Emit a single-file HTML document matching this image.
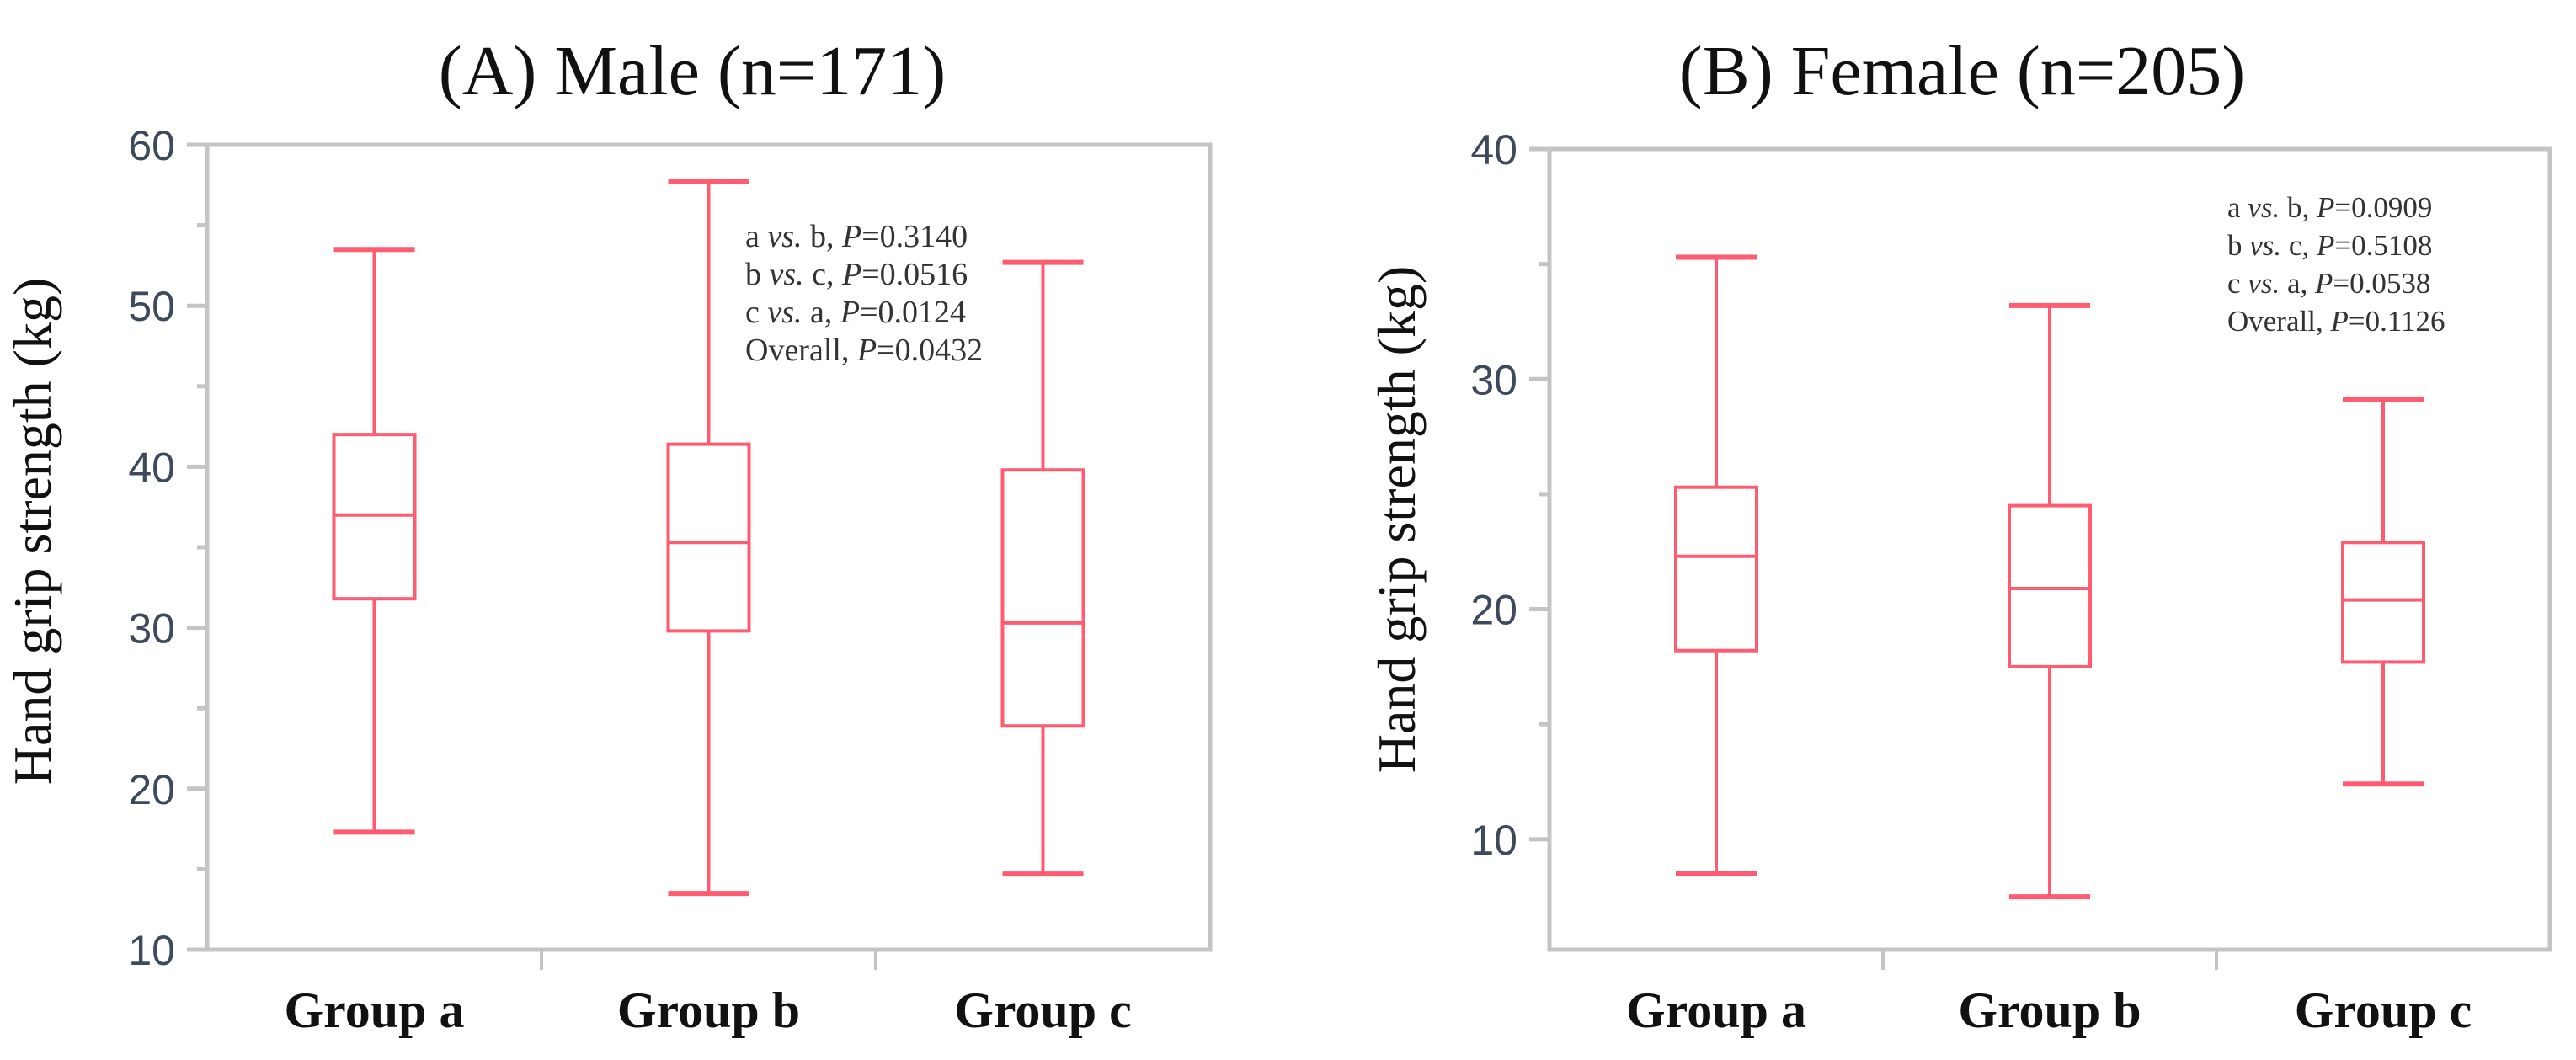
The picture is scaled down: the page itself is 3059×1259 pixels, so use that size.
<!DOCTYPE html>
<html><head><meta charset="utf-8"><style>
html,body{margin:0;padding:0;background:#fff;}
svg{display:block;}
</style></head><body>
<svg id="chart" width="3059" height="1259" viewBox="0 0 3059 1259" xmlns="http://www.w3.org/2000/svg"></svg>
<script>
const groups = ["Group a", "Group b", "Group c"];
const maleMin = [17.3, 13.5, 14.7];
const maleQ1 = [31.8, 29.8, 23.9];
const maleMed = [37.0, 35.3, 30.3];
const maleQ3 = [42.0, 41.4, 39.8];
const maleMax = [53.5, 57.7, 52.7];
const femaleMin = [8.5, 7.5, 12.4];
const femaleQ1 = [18.2, 17.5, 17.7];
const femaleMed = [22.3, 20.9, 20.4];
const femaleQ3 = [25.3, 24.5, 22.9];
const femaleMax = [35.3, 33.2, 29.1];
const maleTicks = [10, 20, 30, 40, 50, 60];
const femaleTicks = [10, 20, 30, 40];
const maleNotes = ["a vs. b, |0.3140", "b vs. c, |0.0516", "c vs. a, |0.0124", "Overall, |0.0432"];
const femaleNotes = ["a vs. b, |0.0909", "b vs. c, |0.5108", "c vs. a, |0.0538", "Overall, |0.1126"];

const NS = "http://www.w3.org/2000/svg";
const svg = document.getElementById("chart");
function mk(tag, attrs, parent) {
  const e = document.createElementNS(NS, tag);
  for (const k in attrs) e.setAttribute(k, attrs[k]);
  (parent || svg).appendChild(e);
  return e;
}

function panel(cfg) {
  const g = mk("g", {});
  
  
  const y = v => cfg.top + (cfg.yMax - v) / (cfg.yMax - cfg.yMin) * (cfg.bottom - cfg.top);
  const bandW = (cfg.right - cfg.left) / groups.length;
  const x = i => cfg.left + bandW * (i + 0.5);

  const frame = mk("rect", {x: cfg.left, y: cfg.top, width: cfg.right - cfg.left, height: cfg.bottom - cfg.top, fill: "none", stroke: "#c4c4c4", "stroke-width": 5}, g);
  
  

  const title = mk("text", {x: cfg.titleX, y: 112, "text-anchor": "middle", "font-family": "Liberation Serif, serif", "font-size": 84, fill: "#111"}, g);
  title.textContent = cfg.title;
  
  

  const yt = mk("text", {x: 0, y: 0, "text-anchor": "middle", "font-family": "Liberation Serif, serif", "font-size": 64, fill: "#111", transform: `translate(${cfg.yTitleX},${cfg.yTitleY}) rotate(-90)`}, g);
  yt.textContent = "Hand grip strength (kg)";
  
  

  for (let v = Math.ceil(cfg.yMin / 5) * 5; v <= cfg.yMax; v += 5) {
    const major = v % 10 === 0;
    const t = mk("line", {x1: cfg.left - (major ? 24 : 12), x2: cfg.left, y1: y(v), y2: y(v), stroke: "#c4c4c4", "stroke-width": 5}, g);
    
    
  }
  cfg.ticks.forEach(v => {
    const t = mk("text", {x: cfg.left - 38, y: y(v) + 18, "text-anchor": "end", "font-family": "Liberation Sans, sans-serif", "font-size": 50, fill: "#3d4a5c"}, g);
    t.textContent = v;
    
    
  });
  for (let i = 1; i < groups.length; i++) {
    const t = mk("line", {x1: cfg.left + bandW * i, x2: cfg.left + bandW * i, y1: cfg.bottom, y2: cfg.bottom + 24, stroke: "#c4c4c4", "stroke-width": 4}, g);
    
    
  }
  groups.forEach((name, i) => {
    const t = mk("text", {x: x(i), y: cfg.bottom + 92, "text-anchor": "middle", "font-family": "Liberation Serif, serif", "font-size": 60, "font-weight": "bold", fill: "#111"}, g);
    t.textContent = name.replace(" ", "  ");
    t.setAttribute("xml:space", "preserve");
    
    

    const bg = mk("g", {stroke: "#ff5c72", "stroke-width": 4, fill: "none"}, g);
    
    
    const cx = x(i), hw = 48;
    mk("line", {x1: cx, x2: cx, y1: y(cfg.max[i]), y2: y(cfg.q3[i])}, bg);
    mk("line", {x1: cx, x2: cx, y1: y(cfg.q1[i]), y2: y(cfg.min[i])}, bg);
    mk("line", {x1: cx - hw, x2: cx + hw, y1: y(cfg.max[i]), y2: y(cfg.max[i]), "stroke-width": 6}, bg);
    mk("line", {x1: cx - hw, x2: cx + hw, y1: y(cfg.min[i]), y2: y(cfg.min[i]), "stroke-width": 6}, bg);
    mk("rect", {x: cx - hw, y: y(cfg.q3[i]), width: 2 * hw, height: y(cfg.q1[i]) - y(cfg.q3[i])}, bg);
    mk("line", {x1: cx - hw, x2: cx + hw, y1: y(cfg.med[i]), y2: y(cfg.med[i])}, bg);
  });

  cfg.notes.forEach((n, k) => {
    const [a, b] = n.split("|");
    const t = mk("text", {x: cfg.noteX, y: cfg.noteY + k * 45, "font-family": "Liberation Serif, serif", "font-size": cfg.noteSize, fill: "#333"}, g);
    
    
    const parts = a.split("vs.");
    if (parts.length === 2) {
      const s1 = mk("tspan", {}, t); s1.textContent = parts[0];
      const s2 = mk("tspan", {"font-style": "italic"}, t); s2.textContent = "vs.";
      const s3 = mk("tspan", {}, t); s3.textContent = parts[1];
    } else {
      const s1 = mk("tspan", {}, t); s1.textContent = a;
    }
    const sp = mk("tspan", {"font-style": "italic"}, t); sp.textContent = "P";
    const sv = mk("tspan", {}, t); sv.textContent = "=" + b;
  });
}

panel({name: "male-panel", title: "(A) Male (n=171)", titleX: 822, left: 246, right: 1437, top: 172, bottom: 1128, yMin: 10, yMax: 60,
  ticks: maleTicks, min: maleMin, q1: maleQ1, med: maleMed, q3: maleQ3, max: maleMax, notes: maleNotes,
  noteX: 885, noteY: 293, noteSize: 38, yTitleX: 60, yTitleY: 631});
panel({name: "female-panel", title: "(B) Female (n=205)", titleX: 2330, left: 1840, right: 3028, top: 177, bottom: 1128, yMin: 5.2, yMax: 40,
  ticks: femaleTicks, min: femaleMin, q1: femaleQ1, med: femaleMed, q3: femaleQ3, max: femaleMax, notes: femaleNotes,
  noteX: 2645, noteY: 258, noteSize: 35, yTitleX: 1680, yTitleY: 617});
</script>
</body></html>
